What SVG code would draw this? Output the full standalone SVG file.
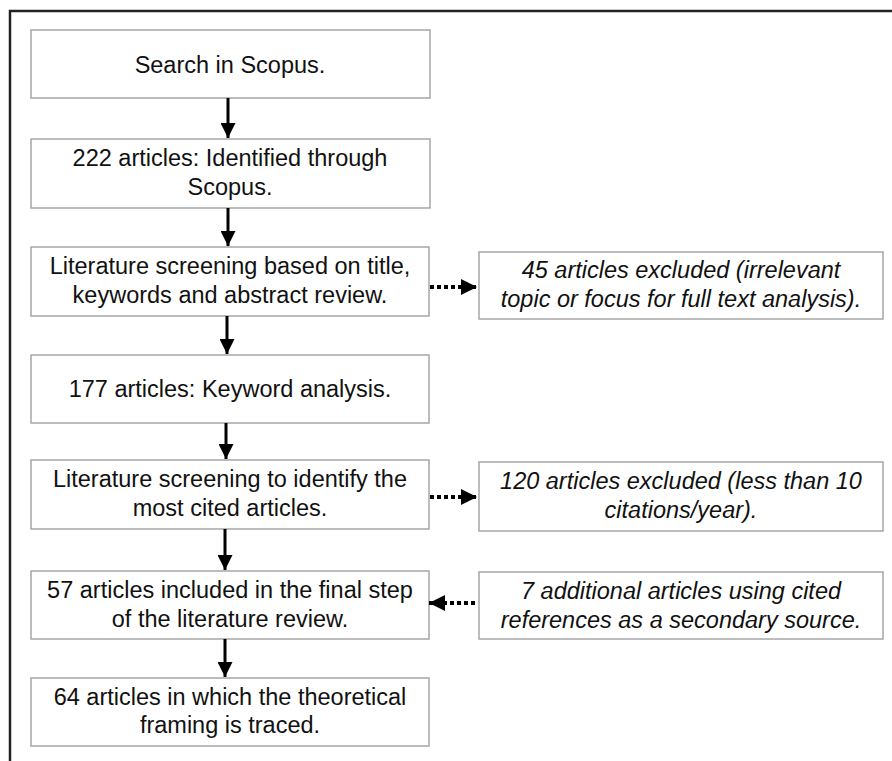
<svg xmlns="http://www.w3.org/2000/svg" width="892" height="761" viewBox="0 0 892 761">
<defs>
<style>
.box{fill:#fff;stroke:#a6a6a6;stroke-width:1.5}
.t{font-family:"Liberation Sans",Arial,sans-serif;font-size:23.5px;fill:#111;text-anchor:middle}
.i{font-style:italic}
.solid{stroke:#000;stroke-width:3;fill:none}
.dot{stroke:#000;stroke-width:4;stroke-dasharray:4 3;fill:none}
</style>
<marker id="ah" viewBox="0 0 10 10" refX="10" refY="5" markerWidth="5" markerHeight="5" markerUnits="strokeWidth" orient="auto">
<path d="M0,0 L10,5 L0,10 Z" fill="#000"/>
</marker>
<marker id="ahd" viewBox="0 0 10 10" refX="10" refY="5" markerWidth="4" markerHeight="4" markerUnits="strokeWidth" orient="auto">
<path d="M0,0 L10,5 L0,10 Z" fill="#000"/>
</marker>
</defs>
<rect x="0" y="0" width="892" height="761" fill="#fff"/>
<path d="M10,761 V11 H892" fill="none" stroke="#222" stroke-width="2.5"/>
<g id="n1"><rect class="box" x="31" y="30" width="399" height="68"/><text class="t" x="230" y="72.5">Search in Scopus.</text></g>
<g id="n2"><rect class="box" x="31" y="139" width="399" height="69"/><text class="t" x="230" y="166">222 articles: Identified through</text><text class="t" x="230" y="194.5">Scopus.</text></g>
<g id="n3"><rect class="box" x="31" y="247" width="398" height="69"/><text class="t" x="230" y="274">Literature screening based on title,</text><text class="t" x="230" y="302.5">keywords and abstract review.</text></g>
<g id="n4"><rect class="box" x="31" y="355" width="398" height="68"/><text class="t" x="230" y="396.5">177 articles: Keyword analysis.</text></g>
<g id="n5"><rect class="box" x="31" y="460" width="398" height="69"/><text class="t" x="230" y="487">Literature screening to identify the</text><text class="t" x="230" y="515.5">most cited articles.</text></g>
<g id="n6"><rect class="box" x="31" y="571" width="398" height="68"/><text class="t" x="230" y="598">57 articles included in the final step</text><text class="t" x="230" y="626.5">of the literature review.</text></g>
<g id="n7"><rect class="box" x="31" y="678" width="398" height="68"/><text class="t" x="230" y="704.5">64 articles in which the theoretical</text><text class="t" x="230" y="733">framing is traced.</text></g>
<g id="r1"><rect class="box" x="479" y="252" width="404" height="67"/><text class="t i" x="681" y="278">45 articles excluded (irrelevant</text><text class="t i" x="681" y="306.5">topic or focus for full text analysis).</text></g>
<g id="r2"><rect class="box" x="479" y="462" width="404" height="69"/><text class="t i" x="681" y="489">120 articles excluded (less than 10</text><text class="t i" x="681" y="517.5">citations/year).</text></g>
<g id="r3"><rect class="box" x="479" y="572" width="404" height="67"/><text class="t i" x="681" y="599">7 additional articles using cited</text><text class="t i" x="681" y="627.5">references as a secondary source.</text></g>
<g id="connectors">
<line class="solid" x1="228" y1="98" x2="228" y2="138" marker-end="url(#ah)"/>
<line class="solid" x1="228" y1="208" x2="228" y2="246" marker-end="url(#ah)"/>
<line class="solid" x1="227" y1="316" x2="227" y2="354" marker-end="url(#ah)"/>
<line class="solid" x1="226" y1="423" x2="226" y2="459" marker-end="url(#ah)"/>
<line class="solid" x1="225" y1="529" x2="225" y2="570" marker-end="url(#ah)"/>
<line class="solid" x1="225" y1="639" x2="225" y2="677" marker-end="url(#ah)"/>
<line class="dot" x1="430" y1="287" x2="477" y2="287" marker-end="url(#ahd)"/>
<line class="dot" x1="430" y1="497" x2="477" y2="497" marker-end="url(#ahd)"/>
<line class="dot" x1="475" y1="603" x2="429" y2="603" marker-end="url(#ahd)"/>
</g>
</svg>
